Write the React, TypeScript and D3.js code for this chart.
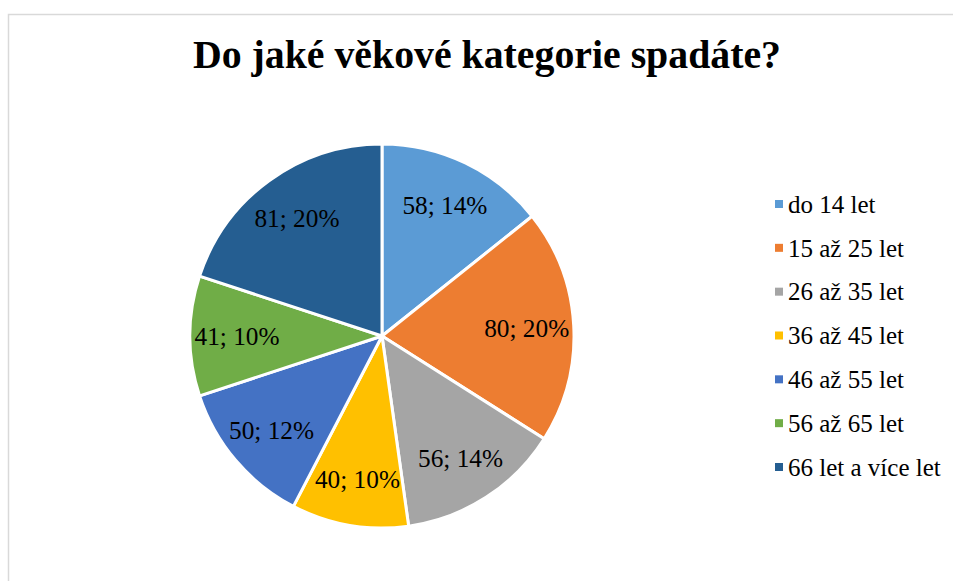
import React from "react";
import * as d3 from "d3";

const categories = ["do 14 let", "15 až 25 let", "26 až 35 let", "36 až 45 let", "46 až 55 let", "56 až 65 let", "66 let a více let"];
const values = [58, 80, 56, 40, 50, 41, 81];
const colors = ["#5B9BD5", "#ED7D31", "#A5A5A5", "#FFC000", "#4472C4", "#70AD47", "#255E91"];
const title = "Do jaké věkové kategorie spadáte?";

const W = 953;
const H = 581;
const cx = 382;
const cy = 336;
const R = 192;

export default function App() {
  const total = d3.sum(values);
  const pie = d3.pie<number>().sort(null).value((d) => d);
  const arcs = pie(values);
  const arcGen = d3.arc<d3.PieArcDatum<number>>().innerRadius(0).outerRadius(R);
  const labelArc = d3.arc<d3.PieArcDatum<number>>().innerRadius(R * 0.755).outerRadius(R * 0.755);
  const legendY = d3.scalePoint<string>().domain(categories).range([204, 467]);
  const font = "'Liberation Serif', serif";
  return (
    <svg width={W} height={H} style={{ position: "absolute", left: 0, top: 0 }}>
      <rect x={0} y={0} width={W} height={H} fill="#fff" />
      <rect x={8.5} y={14.5} width={W + 20} height={H + 20} fill="none" stroke="#d9d9d9" strokeWidth={1.5} />
      <text x={487} y={68} textAnchor="middle" fontFamily={font} fontWeight="bold" fontSize={39.8} fill="#000">
        {title}
      </text>
      <g transform={`translate(${cx},${cy})`}>
        {arcs.map((a, i) => (
          <path key={i} d={arcGen(a) || ""} fill={colors[i]} stroke="#fff" strokeWidth={3} strokeLinejoin="round" />
        ))}
        {arcs.map((a, i) => {
          const [x, y] = labelArc.centroid(a);
          return (
            <text key={"l" + i} x={x} y={y} dy="0.35em" textAnchor="middle" fontFamily={font} fontSize={25.3} fill="#000">
              {`${values[i]}; ${Math.round((values[i] / total) * 100)}%`}
            </text>
          );
        })}
      </g>
      {categories.map((c, i) => (
        <g key={c} transform={`translate(775,${legendY(c)})`}>
          <rect x={0} y={-4} width={8} height={8} fill={colors[i]} />
          <text x={13} y={0} dy="0.35em" fontFamily={font} fontSize={25} fill="#000">
            {c}
          </text>
        </g>
      ))}
    </svg>
  );
}
